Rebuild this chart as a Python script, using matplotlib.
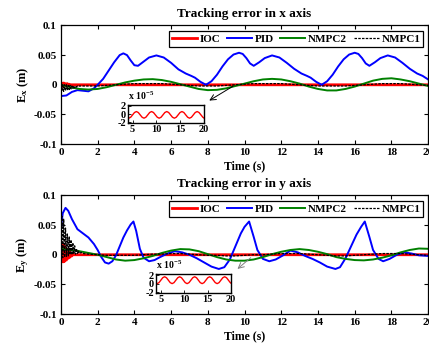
import numpy as np
import matplotlib
matplotlib.use('Agg')
import matplotlib.pyplot as plt

plt.rcParams['font.family'] = ['Liberation Serif', 'DejaVu Serif']
plt.rcParams['font.weight'] = 'bold'
plt.rcParams['mathtext.fontset'] = 'custom'
plt.rcParams['mathtext.rm'] = 'Liberation Serif:bold'
plt.rcParams['mathtext.it'] = 'Liberation Serif:bold'
plt.rcParams['mathtext.bf'] = 'Liberation Serif:bold'
plt.rcParams['axes.unicode_minus'] = False

# ---------------- data ----------------
labels = ['IOC', 'PID', 'NMPC2', 'NMPC1']
colors = ['#ff0000', '#0000ff', '#008000', '#000000']

# x axis errors (m)
ioc_x_t = [0, 0.05, 0.1, 0.15, 0.2, 0.25, 0.3, 0.35, 0.4, 0.45, 0.5, 20]
ioc_x = [0, 0.003, -0.003, 0.003, -0.002, 0.002, -0.002, 0.002, -0.001, 0.001, 0, 0]

pid_x_t = [0, 0.3, 0.6, 0.9, 1.2, 1.5, 1.8, 2.0, 2.3, 2.6, 2.9, 3.2, 3.4, 3.6, 3.8,
           4.0, 4.2, 4.5, 4.8, 5.2, 5.6, 6.0, 6.4, 6.8, 7.1, 7.3, 7.6, 7.9, 8.2,
           8.5, 8.8, 9.1, 9.4, 9.7, 9.9, 10.1, 10.3, 10.5, 10.8, 11.1, 11.5, 11.9,
           12.3, 12.7, 13.1, 13.4, 13.6, 13.9, 14.2, 14.5, 14.8, 15.1, 15.4, 15.7,
           16.0, 16.2, 16.4, 16.6, 16.8, 17.1, 17.4, 17.8, 18.2, 18.6, 19.0, 19.4,
           19.7, 20.0]
pid_x = [-0.019, -0.018, -0.012, -0.009, -0.010, -0.011, -0.006, 0.000, 0.010, 0.024,
         0.038, 0.050, 0.053, 0.050, 0.041, 0.033, 0.032, 0.039, 0.046, 0.0495, 0.046,
         0.037, 0.026, 0.019, 0.015, 0.012, 0.005, 0.000, 0.006, 0.017, 0.031, 0.043,
         0.051, 0.054, 0.052, 0.045, 0.036, 0.032, 0.038, 0.045, 0.0495, 0.046, 0.037,
         0.027, 0.019, 0.015, 0.012, 0.005, 0.000, 0.006, 0.017, 0.031, 0.043, 0.051,
         0.054, 0.052, 0.045, 0.036, 0.032, 0.038, 0.045, 0.0495, 0.046, 0.037, 0.027,
         0.019, 0.015, 0.009]

nmpc2_x_t = [0, 0.5, 1.0, 1.5, 2.0, 2.5, 3.0, 3.5, 4.0, 4.5, 5.0, 5.5, 6.0, 6.5, 7.0,
             7.5, 8.0, 8.5, 9.0, 9.5, 10.0, 10.5, 11.0, 11.5, 12.0, 12.5, 13.0, 13.5,
             14.0, 14.5, 15.0, 15.5, 16.0, 16.5, 17.0, 17.5, 18.0, 18.5, 19.0, 19.5, 20.0]
nmpc2_x = [0.000, -0.004, -0.007, -0.008, -0.007, -0.004, 0.000, 0.004, 0.007, 0.009,
           0.0095, 0.008, 0.005, 0.001, -0.003, -0.007, -0.009, -0.0085, -0.006, -0.002,
           0.002, 0.006, 0.009, 0.010, 0.009, 0.006, 0.002, -0.003, -0.007, -0.0095,
           -0.0095, -0.007, -0.003, 0.002, 0.007, 0.010, 0.011, 0.009, 0.006, 0.002, -0.002]

nmpc1_x_t = [0, 0.05, 0.1, 0.15, 0.2, 0.25, 0.3, 0.35, 0.4, 0.45, 0.5, 0.55, 0.6, 0.65,
             0.7, 0.75, 0.8, 0.85, 0.9, 0.95, 1.0, 1.5, 2.0, 2.5, 3.0, 3.5, 4.0, 4.5,
             5.0, 5.5, 6.0, 6.5, 7.0, 7.5, 8.0, 8.5, 9.0, 9.5, 10.0, 10.5, 11.0, 11.5,
             12.0, 12.5, 13.0, 13.5, 14.0, 14.5, 15.0, 15.5, 16.0, 16.5, 17.0, 17.5,
             18.0, 18.5, 19.0, 19.5, 20.0]
nmpc1_x = [0, -0.011, 0.001, -0.011, 0.000, -0.010, 0.000, -0.009, -0.001, -0.008,
           -0.001, -0.007, -0.002, -0.006, -0.002, -0.005, -0.002, -0.004, -0.002, -0.003,
           -0.002, -0.002, -0.002, -0.001, 0.000, 0.001, 0.002, 0.002, 0.002, 0.002,
           0.001, 0.000, -0.001, -0.002, -0.002, -0.002, -0.001, 0.000, 0.001, 0.002,
           0.002, 0.002, 0.002, 0.001, 0.000, -0.001, -0.002, -0.002, -0.002, -0.002,
           -0.001, 0.000, 0.001, 0.002, 0.002, 0.002, 0.001, 0.000, -0.001]

# y axis errors (m)
ioc_y_t = [0, 0.03, 0.06, 0.1, 0.13, 0.17, 0.2, 0.25, 0.3, 0.35, 0.4, 0.45, 0.5, 0.55,
           0.6, 0.65, 0.7, 20]
ioc_y = [0, 0.019, -0.012, 0.018, -0.012, 0.016, -0.011, 0.012, -0.009, 0.009, -0.006,
         0.006, -0.004, 0.003, -0.002, 0.001, 0, 0]

pid_y_t = [0, 0.1, 0.25, 0.4, 0.6, 0.9, 1.2, 1.5, 1.8, 2.0, 2.2, 2.4, 2.6, 2.8, 3.0,
           3.2, 3.4, 3.6, 3.8, 3.95, 4.1, 4.3, 4.5, 4.8, 5.1, 5.4, 5.8, 6.2, 6.6, 7.0,
           7.4, 7.8, 8.2, 8.6, 8.9, 9.2, 9.5, 9.8, 10.0, 10.25, 10.5, 10.7, 11.0, 11.35,
           11.7, 12.1, 12.5, 12.9, 13.3, 13.7, 14.1, 14.5, 14.95, 15.2, 15.5, 15.8, 16.1,
           16.35, 16.55, 16.8, 17.0, 17.3, 17.55, 17.9, 18.3, 18.7, 19.1, 19.5, 20.0]
pid_y = [0.045, 0.070, 0.079, 0.074, 0.060, 0.043, 0.036, 0.029, 0.018, 0.008, -0.004,
         -0.013, -0.015, -0.011, -0.001, 0.014, 0.029, 0.041, 0.051, 0.056, 0.040, 0.010,
         -0.005, -0.011, -0.009, -0.004, 0.002, 0.006, 0.004, 0.000, -0.006, -0.013,
         -0.020, -0.024, -0.021, -0.008, 0.014, 0.036, 0.047, 0.056, 0.030, 0.008, -0.007,
         -0.011, -0.008, -0.001, 0.007, 0.004, -0.002, -0.007, -0.013, -0.020, -0.024,
         -0.021, -0.006, 0.014, 0.034, 0.047, 0.056, 0.030, 0.008, -0.007, -0.011, -0.007,
         0.000, 0.004, 0.002, -0.001, -0.002]

nmpc2_y_t = nmpc2_x_t
nmpc2_y = [0.010, 0.008, 0.006, 0.003, 0.000, -0.004, -0.008, -0.010, -0.009, -0.006,
           -0.002, 0.003, 0.007, 0.0095, 0.009, 0.006, 0.001, -0.004, -0.008, -0.010,
           -0.010, -0.008, -0.004, 0.001, 0.005, 0.008, 0.0095, 0.008, 0.005, 0.001,
           -0.004, -0.007, -0.009, -0.0095, -0.008, -0.005, -0.001, 0.004, 0.008, 0.0105,
           0.010]

nmpc1_y_t = [0, 0.05, 0.1, 0.15, 0.2, 0.25, 0.3, 0.35, 0.4, 0.45, 0.5, 0.55, 0.6, 0.65,
             0.7, 0.75, 0.8, 0.85, 0.9, 0.95, 1.0, 1.1, 1.2, 1.5, 2.0, 2.5, 3.0, 3.5,
             4.0, 4.5, 5.0, 5.5, 6.0, 6.5, 7.0, 7.5, 8.0, 8.5, 9.0, 9.5, 10.0, 10.5,
             11.0, 11.5, 12.0, 12.5, 13.0, 13.5, 14.0, 14.5, 15.0, 15.5, 16.0, 16.5,
             17.0, 17.5, 18.0, 18.5, 19.0, 19.5, 20.0]
nmpc1_y = [0.0, 0.065, -0.005, 0.060, -0.004, 0.045, -0.003, 0.035, -0.002, 0.030, 0.0,
           0.025, 0.0, 0.020, 0.001, 0.015, 0.001, 0.010, 0.002, 0.007, 0.002, 0.004,
           0.002, 0.001, 0.000, -0.001, -0.001, -0.001, -0.001, 0.000, 0.001, 0.001,
           0.002, 0.002, 0.001, 0.000, -0.001, -0.001, -0.002, -0.002, -0.001, 0.000,
           0.000, 0.001, 0.002, 0.002, 0.002, 0.001, 0.000, -0.001, -0.002, -0.002,
           -0.001, 0.000, 0.001, 0.002, 0.002, 0.002, 0.001, 0.000, -0.001]

# IOC zoom insets (units of 1e-5 m)
zoom_t = [4.0, 4.2, 4.6, 5.0, 5.4, 5.8, 6.2, 6.6, 7.0, 7.4, 7.8, 8.2, 8.6, 9.0, 9.4,
          9.8, 10.2, 10.6, 11.0, 11.4, 11.8, 12.2, 12.6, 13.0, 13.4, 13.8, 14.2, 14.6,
          15.0, 15.4, 15.8, 16.2, 16.6, 17.0, 17.4, 17.8, 18.2, 18.6, 19.0, 19.4, 19.8,
          20.0]
ioc_x_zoom = [-0.94, -1.0, -0.77, -0.2, 0.37, 0.6, 0.37, -0.2, -0.77, -1.0, -0.77, -0.2,
              0.37, 0.6, 0.37, -0.2, -0.77, -1.0, -0.77, -0.2, 0.37, 0.6, 0.37, -0.2,
              -0.77, -1.0, -0.77, -0.2, 0.37, 0.6, 0.37, -0.2, -0.77, -1.0, -0.77, -0.2,
              0.37, 0.6, 0.37, -0.2, -0.77, -0.94]
ioc_y_zoom = [0.06, 0.0, 0.23, 0.8, 1.37, 1.6, 1.37, 0.8, 0.23, 0.0, 0.23, 0.8, 1.37,
              1.6, 1.37, 0.8, 0.23, 0.0, 0.23, 0.8, 1.37, 1.6, 1.37, 0.8, 0.23, 0.0,
              0.23, 0.8, 1.37, 1.6, 1.37, 0.8, 0.23, 0.0, 0.23, 0.8, 1.37, 1.6, 1.37,
              0.8, 0.23, 0.06]

xticks = [0, 2, 4, 6, 8, 10, 12, 14, 16, 18, 20]
yticks = [-0.1, -0.05, 0, 0.05, 0.1]
ytick_labels = ['-0.1', '-0.05', '0', '0.05', '0.1']


def style_axes(ax, fs=8):
    ax.tick_params(direction='in', top=True, right=True, length=3, width=0.8,
                   labelsize=fs, pad=3)
    for s in ax.spines.values():
        s.set_linewidth(0.9)
    for lab in ax.get_xticklabels() + ax.get_yticklabels():
        lab.set_fontweight('bold')


def main_panel(ax, series, title, ylabel):
    styles = [dict(lw=2.0), dict(lw=1.4), dict(lw=1.4), dict(lw=0.9, ls=(0, (2, 1)))]
    for (t, v), lab, c, st in zip(series, labels, colors, styles):
        ax.plot(t, v, color=c, label=lab, **st)
    ax.set_xlim(0, 20)
    ax.set_ylim(-0.1, 0.1)
    ax.set_xticks(xticks)
    ax.set_yticks(yticks)
    ax.set_yticklabels(ytick_labels)
    style_axes(ax)
    ax.set_title(title, fontsize=9.5, fontweight='bold', pad=6)
    ax.set_xlabel('Time (s)', fontsize=8.5, fontweight='bold', labelpad=2)
    ax.set_ylabel(ylabel, fontsize=9, fontweight='bold', labelpad=2)
    leg = ax.legend(loc='upper right', bbox_to_anchor=(0.987, 0.95), ncol=4,
                    fontsize=8, frameon=True, fancybox=False, framealpha=1,
                    edgecolor='black', handlelength=2.25, handletextpad=0.25,
                    columnspacing=0.6, borderpad=0.25, borderaxespad=0)
    leg.get_frame().set_linewidth(0.9)
    for txt in leg.get_texts():
        txt.set_fontweight('bold')


def inset_panel(fig, rect, t, v):
    ax = fig.add_axes(rect)
    ax.plot(t, v, color='#ff0000', lw=1.0)
    ax.set_xlim(4, 20)
    ax.set_ylim(-2.2, 2.2)
    ax.set_xticks([5, 10, 15, 20])
    ax.set_yticks([-2, 0, 2])
    ax.set_yticklabels(['-2', '0', '2'])
    ax.tick_params(direction='in', length=2, width=0.6, labelsize=7.5, pad=1.5)
    for s in ax.spines.values():
        s.set_linewidth(1.0)
    for lab in ax.get_xticklabels() + ax.get_yticklabels():
        lab.set_fontweight('bold')
    fig.text(rect[0], rect[1] + rect[3] + 0.008, 'x 10$^{-5}$', fontsize=7,
             fontweight='bold', ha='left', va='bottom')
    return ax


fig = plt.figure(figsize=(4.29, 3.44), dpi=100)

ax1 = fig.add_axes([0.142, 0.581, 0.856, 0.345])
main_panel(ax1, [(ioc_x_t, ioc_x), (pid_x_t, pid_x), (nmpc2_x_t, nmpc2_x),
                 (nmpc1_x_t, nmpc1_x)],
           'Tracking error in x axis', 'E$_{\\mathregular{x}}$ (m)')
ax1.annotate('', xy=(7.95, -0.029), xytext=(9.5, 0.0),
             arrowprops=dict(arrowstyle='->', color='black', lw=0.7))

ax2 = fig.add_axes([0.142, 0.087, 0.856, 0.345])
main_panel(ax2, [(ioc_y_t, ioc_y), (pid_y_t, pid_y), (nmpc2_y_t, nmpc2_y),
                 (nmpc1_y_t, nmpc1_y)],
           'Tracking error in y axis', 'E$_{\\mathregular{y}}$ (m)')
ax2.annotate('', xy=(9.5, -0.027), xytext=(10.45, -0.002),
             arrowprops=dict(arrowstyle='->', color='#808080', lw=0.7))

inset_panel(fig, [0.298, 0.642, 0.177, 0.053], zoom_t, ioc_x_zoom)
inset_panel(fig, [0.364, 0.148, 0.175, 0.055], zoom_t, ioc_y_zoom)

fig.savefig('out.png', dpi=100)
